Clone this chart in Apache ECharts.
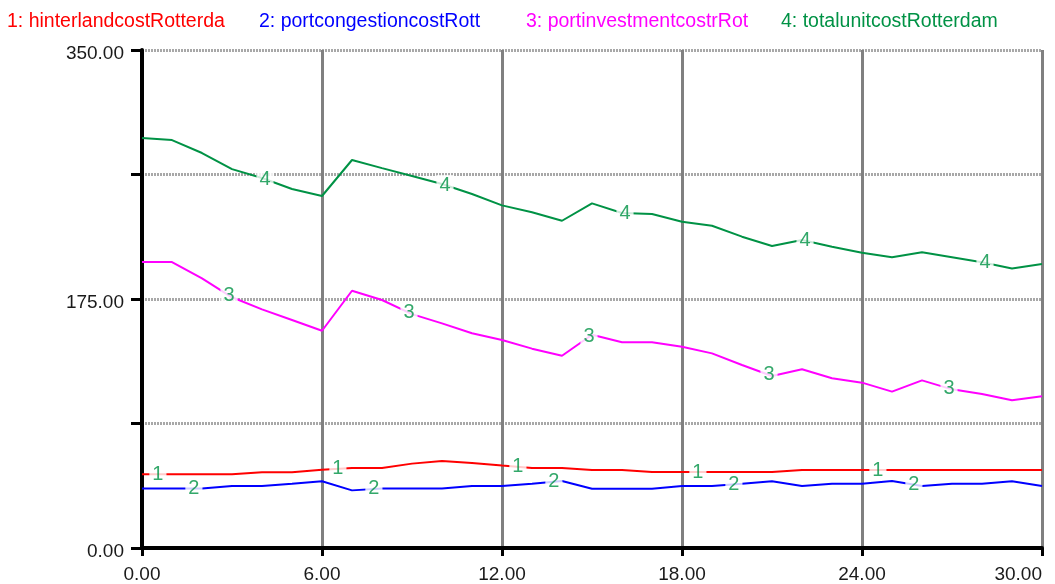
<!DOCTYPE html>
<html>
<head>
<meta charset="utf-8">
<script src="https://cdn.jsdelivr.net/npm/echarts@6/dist/echarts.min.js"></script>
<style>
  html, body { margin: 0; padding: 0; background: #fff; }
  #chart { width: 1055px; height: 584px; }
</style>
</head>
<body>
<div id="chart"></div>
<script>
// time steps 0..30
let times = []
for (let t = 0; t <= 30; t++) times.push(t)

let names = ['1: hinterlandcostRotterda', '2: portcongestioncostRott', '3: portinvestmentcostrRot', '4: totalunitcostRotterdam']
let colors = ['#ff0000', '#0000ff', '#ff00ff', '#009245']

let hinterland = [51.8, 51.8, 51.8, 51.8, 53.2, 53.2, 55.0, 56.2, 56.2, 59.3, 61.1, 59.7, 57.9, 56.2, 56.2, 54.8,
    54.8, 53.4, 53.4, 53.4, 53.4, 53.4, 54.8, 54.8, 54.8, 54.8, 54.8, 54.8, 54.8, 54.8, 54.8]
let congestion = [41.9, 41.9, 41.9, 43.6, 43.6, 45.2, 46.9, 40.5, 41.9, 41.9, 41.9, 43.6, 43.6, 45.2, 47.1, 41.7,
    41.7, 41.7, 43.6, 43.6, 45.2, 46.9, 43.6, 45.2, 45.2, 47.1, 43.6, 45.2, 45.2, 46.9, 43.6]
let investment = [201, 201, 189.5, 176.2, 167.7, 160.2, 152.7, 180.8, 174.3, 164.4, 157.9, 150.9, 146.2, 140.1, 135.1, 149.9,
    144.6, 144.6, 141.5, 136.8, 128.6, 120.9, 125.6, 119.3, 116.2, 109.9, 117.8, 111.5, 108.2, 103.8, 106.6]
let total = [288.1, 286.7, 277.6, 266.3, 260.0, 252.3, 247.4, 272.7, 267.0, 261.4, 255.8, 248.8, 240.8, 236.0, 230.0, 242.2,
    235.4, 234.7, 229.3, 226.5, 218.8, 212.2, 216.4, 211.7, 207.5, 204.3, 207.8, 204.3, 200.8, 196.5, 199.6]

// where the series numbers sit along each line
let labelTimes = [
    [0.53, 6.53, 12.53, 18.53, 24.53],
    [1.73, 7.73, 13.73, 19.73, 25.73],
    [2.9, 8.9, 14.9, 20.9, 26.9],
    [4.1, 10.1, 16.1, 22.1, 28.1]
]

let yMax = 350
let legendLeft = [-3, 249, 516, 771]

let allValues = [hinterland, congestion, investment, total]

function valueAt(values, t) {
    let i = Math.min(Math.floor(t), values.length - 2)
    let f = t - i
    return values[i] + (values[i + 1] - values[i]) * f
}

let chart = echarts.init(document.getElementById('chart'))

let series = allValues.map((values, idx) => {
    return {
        name: names[idx],
        type: 'line',
        symbol: 'none',
        animation: false,
        lineStyle: { color: colors[idx], width: 2 },
        itemStyle: { color: colors[idx] },
        z: 3,
        data: values.map((v, i) => [times[i], v])
    }
})

allValues.forEach((values, idx) => {
    series.push({
        name: 'lbl' + idx,
        type: 'scatter',
        symbolSize: 0,
        animation: false,
        silent: true,
        z: 5,
        label: {
            show: true,
            position: 'inside',
            formatter: String(idx + 1),
            color: '#009245',
            fontSize: 20,
            fontFamily: 'Liberation Sans',
            backgroundColor: '#ffffff',
            padding: [0, 3]
        },
        data: labelTimes[idx].map(t => [t, valueAt(values, t)])
    })
})

let legends = names.map((n, i) => ({
    left: legendLeft[i],
    top: 7,
    icon: 'rect',
    itemWidth: 0,
    itemHeight: 0,
    selectedMode: false,
    textStyle: { fontSize: 19.5, fontFamily: 'Liberation Sans', color: colors[i] },
    data: [n]
}))

let option = {
    backgroundColor: '#ffffff',
    animation: false,
    legend: legends,
    grid: { left: 142, right: 13, top: 50, bottom: 36, outerBoundsMode: 'none' },
    xAxis: {
        type: 'value',
        min: 0,
        max: 30,
        interval: 6,
        axisLine: { lineStyle: { color: '#000', width: 4 } },
        axisTick: { length: 8, lineStyle: { color: '#000', width: 3 } },
        axisLabel: {
            color: '#1a1a1a',
            fontSize: 19,
            fontFamily: 'Liberation Sans',
            margin: 17,
            alignMaxLabel: 'right',
            formatter: v => v.toFixed(2)
        },
        splitLine: { show: true, lineStyle: { color: '#808080', width: 3 } }
    },
    yAxis: {
        type: 'value',
        min: 0,
        max: yMax,
        interval: 87.5,
        axisLine: { show: true, lineStyle: { color: '#000', width: 4 } },
        axisTick: { show: true, length: 11, lineStyle: { color: '#000', width: 3 } },
        axisLabel: {
            color: '#1a1a1a',
            fontSize: 19,
            fontFamily: 'Liberation Sans',
            margin: 18,
            verticalAlign: 'top',
            lineHeight: 7,
            formatter: v => (v % 175 === 0 ? v.toFixed(2) : '')
        },
        splitLine: { show: true, lineStyle: { color: '#a8a8a8', width: 3, type: [2, 1] } }
    },
    series: series
}

chart.setOption(option)
</script>
</body>
</html>
